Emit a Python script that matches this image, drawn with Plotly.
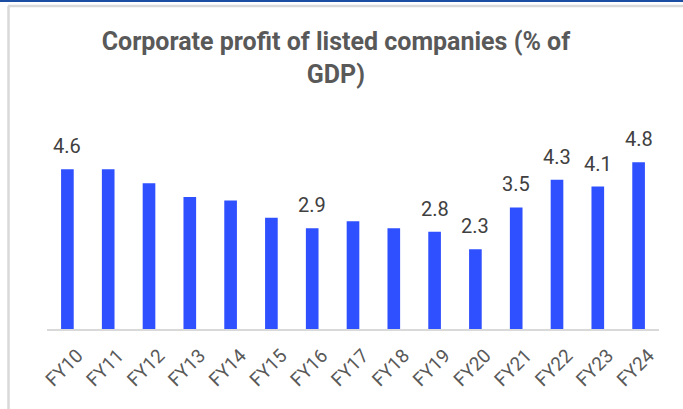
import plotly.graph_objects as go

categories = ["FY10", "FY11", "FY12", "FY13", "FY14", "FY15", "FY16", "FY17",
              "FY18", "FY19", "FY20", "FY21", "FY22", "FY23", "FY24"]
values = [4.6, 4.6, 4.2, 3.8, 3.7, 3.2, 2.9, 3.1, 2.9, 2.8, 2.3, 3.5, 4.3, 4.1, 4.8]
labelled = ["FY10", "FY16", "FY19", "FY20", "FY21", "FY22", "FY23", "FY24"]
title_text = "Corporate profit of listed companies (% of<br>GDP)"

W, H = 683, 409
ML, MR, MT, MB = 47, 24, 138, 80
PW, PH = W - ML - MR, H - MT - MB


def px_x(px):
    return (px - ML) / PW


def px_y(py):
    return (H - MB - py) / PH


fig = go.Figure()
fig.add_trace(go.Bar(
    x=categories, y=values,
    marker=dict(color="#2F50FF", line=dict(width=0)),
    width=0.31,
    hoverinfo="x+y",
))

for c, v in zip(categories, values):
    if c in labelled:
        fig.add_annotation(
            x=c, y=v, text=f"{v:.1f}", showarrow=False,
            yanchor="bottom", yshift=9,
            font=dict(family="Roboto", size=20, color="#404040"),
        )

shapes = [
    dict(type="rect", xref="paper", yref="paper",
         x0=px_x(0), x1=px_x(W), y0=px_y(2), y1=px_y(0),
         line=dict(width=0), fillcolor="#1C4FA3", layer="above"),
    dict(type="line", xref="paper", yref="paper",
         x0=px_x(8), x1=px_x(W), y0=px_y(6), y1=px_y(6),
         line=dict(color="#D9D9D9", width=2.5)),
    dict(type="line", xref="paper", yref="paper",
         x0=px_x(8.5), x1=px_x(8.5), y0=px_y(6), y1=px_y(H),
         line=dict(color="#D9D9D9", width=2.5)),
]

fig.update_layout(
    width=W, height=H,
    margin=dict(l=ML, r=MR, t=MT, b=MB, autoexpand=False),
    paper_bgcolor="white", plot_bgcolor="white",
    title=dict(
        text=title_text, x=px_x(348), xanchor="center",
        y=1 - 50 / H, yanchor="top",
        font=dict(family="Roboto", size=25, color="#595959", weight="bold"),
    ),
    showlegend=False,
    bargap=0.69,
    shapes=shapes,
    xaxis=dict(
        type="category", tickangle=-45,
        tickfont=dict(family="Roboto", size=19, color="#595959"),
        showline=True, linecolor="#D9D9D9", linewidth=2,
        ticks="", showgrid=False, ticklabelstandoff=6, ticklabelshift=10,
    ),
    yaxis=dict(
        range=[0, 5.5], visible=False, showgrid=False, zeroline=False,
    ),
)

fig.write_html("out.html", config={"displayModeBar": False},
               post_script="document.body.style.margin='0';")
